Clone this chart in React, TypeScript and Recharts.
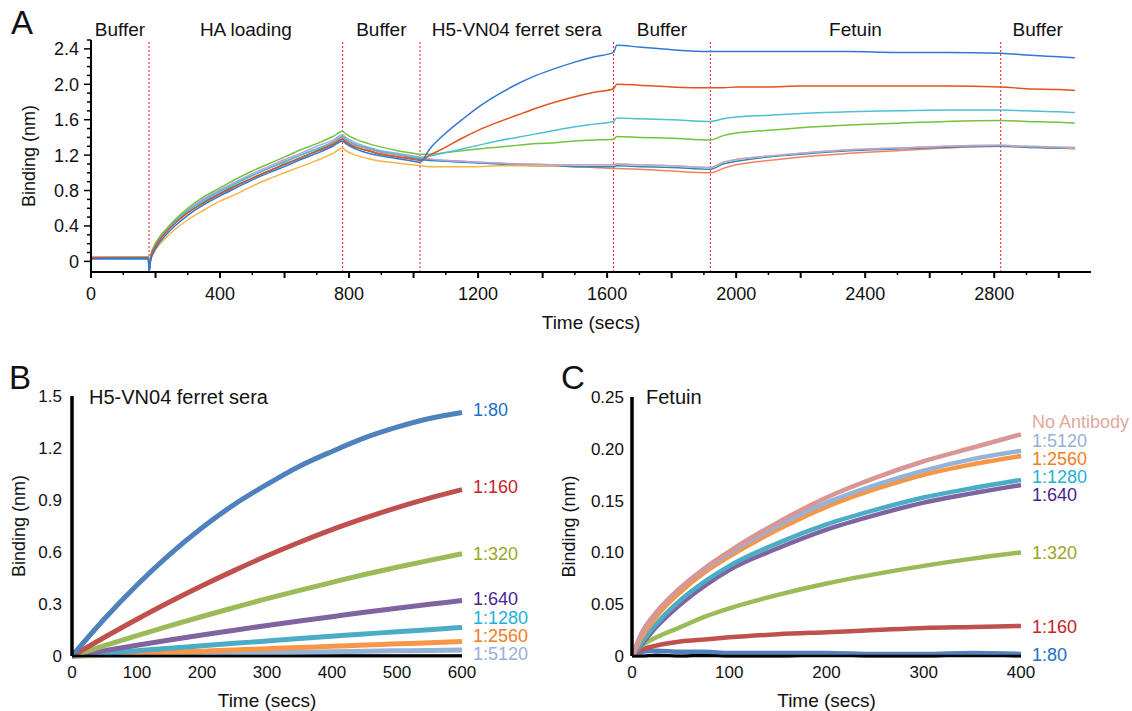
import React from 'react';
import {
  LineChart,
  Line,
  XAxis,
  YAxis,
  ReferenceLine,
  ReferenceArea,
  ReferenceDot,
} from 'recharts';

const FONT = "'Liberation Sans', Arial, Helvetica, sans-serif";

// ---------- Panel A: full sensorgram ----------
const TIME_A = [
  0, 90, 178, 180, 185, 195, 210, 230, 260, 300, 350, 400, 450, 500, 550, 600, 650, 700, 750, 780,
  790, 820, 860, 900, 950, 1000, 1020, 1050, 1100, 1150, 1200, 1260, 1320, 1380, 1440, 1500, 1560,
  1620, 1630, 1700, 1800, 1920, 1960, 2000, 2100, 2200, 2350, 2500, 2650, 2820, 2900, 3000, 3050,
];

const A_BLUE = [
  0.03, 0.03, 0.03, -0.11, 0.01, 0.11, 0.2, 0.29, 0.4, 0.52, 0.64, 0.74, 0.83, 0.92, 1.0, 1.07, 1.15, 1.22, 1.3, 1.36,
  1.33, 1.27, 1.22, 1.19, 1.16, 1.13, 1.12, 1.27, 1.45, 1.6, 1.74, 1.88, 2.0, 2.1, 2.18, 2.25, 2.31,
  2.36, 2.44, 2.42, 2.39, 2.37, 2.37, 2.37, 2.37, 2.37, 2.37, 2.36, 2.36, 2.35, 2.33, 2.31, 2.3,
];
const A_RED = [
  0.04, 0.04, 0.04, -0.11, 0.04, 0.14, 0.23, 0.32, 0.43, 0.55, 0.66, 0.76, 0.85, 0.94, 1.02, 1.09, 1.17, 1.24, 1.32, 1.38,
  1.35, 1.29, 1.25, 1.21, 1.18, 1.15, 1.14, 1.2, 1.29, 1.39, 1.48, 1.57, 1.65, 1.73, 1.8, 1.86, 1.91,
  1.95, 2.0, 1.99, 1.97, 1.96, 1.96, 1.97, 1.97, 1.98, 1.98, 1.98, 1.98, 1.97, 1.95, 1.94, 1.93,
];
const A_CYAN = [
  0.04, 0.05, 0.05, -0.11, 0.04, 0.14, 0.24, 0.33, 0.45, 0.57, 0.69, 0.79, 0.88, 0.97, 1.05, 1.12, 1.2, 1.27, 1.35, 1.41,
  1.38, 1.32, 1.28, 1.24, 1.21, 1.18, 1.17, 1.19, 1.23, 1.27, 1.31, 1.36, 1.4, 1.44, 1.48, 1.52, 1.55,
  1.58, 1.62, 1.61, 1.6, 1.58, 1.61, 1.63, 1.65, 1.67, 1.69, 1.7, 1.71, 1.71, 1.7, 1.69, 1.68,
];
const A_GREEN = [
  0.04, 0.04, 0.05, -0.11, 0.06, 0.16, 0.26, 0.35, 0.47, 0.6, 0.73, 0.83, 0.93, 1.02, 1.1, 1.18, 1.26, 1.33, 1.41, 1.47,
  1.44, 1.38, 1.33, 1.29, 1.25, 1.22, 1.21, 1.21, 1.23, 1.25, 1.27, 1.29, 1.31, 1.33, 1.34, 1.36, 1.37,
  1.38, 1.41, 1.4, 1.39, 1.37, 1.42, 1.45, 1.48, 1.51, 1.54, 1.56, 1.58, 1.59, 1.58, 1.57, 1.56,
];
const A_LAVENDER = [
  0.04, 0.05, 0.05, -0.11, 0.05, 0.15, 0.25, 0.34, 0.46, 0.58, 0.71, 0.81, 0.9, 0.99, 1.07, 1.15, 1.22, 1.3, 1.37, 1.43,
  1.4, 1.34, 1.29, 1.25, 1.22, 1.19, 1.18, 1.16, 1.14, 1.13, 1.12, 1.11, 1.1, 1.1, 1.09, 1.09, 1.09,
  1.09, 1.1, 1.09, 1.08, 1.06, 1.12, 1.15, 1.19, 1.22, 1.26, 1.28, 1.3, 1.31, 1.3, 1.29, 1.29,
];
const A_TEAL = [
  0.03, 0.03, 0.03, -0.11, 0.03, 0.13, 0.23, 0.32, 0.43, 0.55, 0.67, 0.77, 0.86, 0.94, 1.02, 1.1, 1.17, 1.25, 1.32, 1.38,
  1.35, 1.29, 1.25, 1.21, 1.18, 1.16, 1.15, 1.14, 1.13, 1.12, 1.11, 1.1, 1.09, 1.08, 1.08, 1.07, 1.07,
  1.07, 1.08, 1.07, 1.06, 1.04, 1.1, 1.13, 1.18, 1.21, 1.25, 1.27, 1.29, 1.3, 1.29, 1.28, 1.28,
];
const A_SALMON = [
  0.05, 0.05, 0.05, -0.11, 0.07, 0.17, 0.26, 0.35, 0.46, 0.58, 0.7, 0.8, 0.89, 0.97, 1.05, 1.13, 1.2, 1.27, 1.34, 1.4,
  1.37, 1.31, 1.27, 1.23, 1.2, 1.17, 1.16, 1.15, 1.14, 1.13, 1.12, 1.11, 1.1, 1.09, 1.08, 1.07, 1.06,
  1.05, 1.05, 1.04, 1.02, 1.0, 1.05, 1.09, 1.14, 1.18, 1.22, 1.25, 1.28, 1.3, 1.29, 1.28, 1.27,
];
const A_YELLOW = [
  0.04, 0.04, 0.04, -0.11, 0.02, 0.1, 0.18, 0.26, 0.36, 0.47, 0.58, 0.68, 0.76, 0.85, 0.93, 1.0, 1.07, 1.14, 1.22, 1.28,
  1.25, 1.2, 1.16, 1.13, 1.11, 1.09, 1.08, 1.07, 1.07, 1.07, 1.07, 1.08, 1.08, 1.08, 1.08, 1.09, 1.09,
  1.09, 1.1, 1.09, 1.08, 1.06, 1.12, 1.15, 1.19, 1.22, 1.26, 1.28, 1.3, 1.31, 1.3, 1.29, 1.28,
];

const PHASE_EDGES = [180, 780, 1020, 1620, 1920, 2820];
const PHASES = [
  { from: 0, to: 180, name: 'Buffer' },
  { from: 180, to: 780, name: 'HA loading' },
  { from: 780, to: 1020, name: 'Buffer' },
  { from: 1020, to: 1620, name: 'H5-VN04 ferret sera' },
  { from: 1620, to: 1920, name: 'Buffer' },
  { from: 1920, to: 2820, name: 'Fetuin' },
  { from: 2820, to: 3050, name: 'Buffer' },
];
const TICKS_A_X = [
  0, 100, 200, 300, 400, 500, 600, 700, 800, 900, 1000, 1100, 1200, 1300, 1400, 1500, 1600, 1700,
  1800, 1900, 2000, 2100, 2200, 2300, 2400, 2500, 2600, 2700, 2800, 2900, 3000,
];
const TICKS_A_Y = [
  0, 0.1, 0.2, 0.3, 0.4, 0.5, 0.6, 0.7, 0.8, 0.9, 1.0, 1.1, 1.2, 1.3, 1.4, 1.5, 1.6, 1.7, 1.8, 1.9,
  2.0, 2.1, 2.2, 2.3, 2.4, 2.5,
];

// ---------- Panel B: ferret sera association ----------
const TIME_B = [0, 50, 100, 150, 200, 250, 300, 350, 400, 450, 500, 550, 600];
const B_80 = [0, 0.215, 0.41, 0.585, 0.74, 0.875, 0.99, 1.095, 1.18, 1.258, 1.32, 1.37, 1.405];
const B_160 = [0, 0.108, 0.212, 0.311, 0.405, 0.494, 0.578, 0.656, 0.729, 0.795, 0.856, 0.911, 0.96];
const B_320 = [0, 0.06, 0.118, 0.174, 0.228, 0.28, 0.331, 0.379, 0.425, 0.47, 0.512, 0.552, 0.59];
const B_640 = [0, 0.031, 0.062, 0.092, 0.121, 0.149, 0.176, 0.202, 0.227, 0.252, 0.276, 0.298, 0.32];
const B_1280 = [0, 0.015, 0.03, 0.045, 0.059, 0.073, 0.087, 0.101, 0.114, 0.127, 0.14, 0.152, 0.165];
const B_2560 = [0, 0.007, 0.014, 0.021, 0.028, 0.035, 0.042, 0.049, 0.056, 0.063, 0.07, 0.077, 0.083];
const B_5120 = [0, 0.003, 0.006, 0.009, 0.012, 0.015, 0.018, 0.021, 0.024, 0.027, 0.03, 0.032, 0.034];
const B_BASE = [0, 0.001, 0.001, 0.002, 0.001, 0.002, 0.002, 0.001, 0.002, 0.002, 0.001, 0.002, 0.002];

// ---------- Panel C: fetuin binding ----------
const TIME_C = [0, 10, 25, 50, 75, 100, 150, 200, 250, 300, 350, 400];
const C_NOAB = [0, 0.022, 0.042, 0.066, 0.085, 0.101, 0.129, 0.153, 0.172, 0.188, 0.201, 0.214];
const C_5120 = [0, 0.022, 0.042, 0.066, 0.084, 0.099, 0.126, 0.148, 0.165, 0.179, 0.19, 0.198];
const C_2560 = [0, 0.018, 0.038, 0.062, 0.081, 0.096, 0.122, 0.144, 0.161, 0.175, 0.185, 0.193];
const C_1280 = [0, 0.013, 0.031, 0.054, 0.072, 0.087, 0.109, 0.127, 0.141, 0.153, 0.162, 0.17];
const C_640 = [0, 0.011, 0.028, 0.05, 0.068, 0.083, 0.104, 0.122, 0.136, 0.148, 0.157, 0.165];
const C_320 = [0, 0.01, 0.018, 0.028, 0.038, 0.046, 0.059, 0.07, 0.079, 0.087, 0.094, 0.1];
const C_160 = [0, 0.006, 0.01, 0.014, 0.016, 0.018, 0.021, 0.023, 0.025, 0.027, 0.028, 0.029];
const C_80 = [0, 0.004, 0.005, 0.004, 0.004, 0.003, 0.003, 0.003, 0.002, 0.002, 0.003, 0.002];
const C_BASE = [0, 0, 0.001, 0, 0.001, 0, 0, 0.001, 0, 0, 0.001, 0];

const pts = (times: number[], values: number[]) => times.map((t, i) => ({ t, v: values[i] }));

const A_SERIES = [
  { key: 'salmon', values: A_SALMON, color: '#f47f63' },
  { key: 'teal', values: A_TEAL, color: '#2a8fae' },
  { key: 'yellow', values: A_YELLOW, color: '#f6b445' },
  { key: 'lavender', values: A_LAVENDER, color: '#b5a3e6' },
  { key: 'green', values: A_GREEN, color: '#72c43c' },
  { key: 'cyan', values: A_CYAN, color: '#4dbfd6' },
  { key: 'red', values: A_RED, color: '#e2531d' },
  { key: 'blue', values: A_BLUE, color: '#2f78d6' },
];

const B_SERIES = [
  { name: '1:5120', values: B_5120, color: '#95b3d7', text: '#9aaed8', dy: 4 },
  { name: '1:2560', values: B_2560, color: '#f79646', text: '#f07c1e', dy: -6 },
  { name: '1:1280', values: B_1280, color: '#4bacc6', text: '#1fb0d8', dy: -10 },
  { name: '1:640', values: B_640, color: '#8064a2', text: '#4a1f8f', dy: -2 },
  { name: '1:320', values: B_320, color: '#9bbb59', text: '#9ba51f', dy: 0 },
  { name: '1:160', values: B_160, color: '#c0504d', text: '#c8202a', dy: -3 },
  { name: '1:80', values: B_80, color: '#4f81bd', text: '#1e6ec8', dy: -3 },
];

const C_SERIES = [
  { name: '1:80', values: C_80, color: '#4f81bd', text: '#1e6ec8', dy: 1 },
  { name: '1:160', values: C_160, color: '#c0504d', text: '#c8202a', dy: 1 },
  { name: '1:320', values: C_320, color: '#9bbb59', text: '#9ba51f', dy: 0 },
  { name: '1:640', values: C_640, color: '#8064a2', text: '#4a1f8f', dy: 10 },
  { name: '1:1280', values: C_1280, color: '#4bacc6', text: '#1fb0d8', dy: -3 },
  { name: '1:2560', values: C_2560, color: '#f79646', text: '#f07c1e', dy: 3 },
  { name: '1:5120', values: C_5120, color: '#95b3d7', text: '#9aaed8', dy: -10 },
  { name: 'No Antibody', values: C_NOAB, color: '#d99694', text: '#e2a89f', dy: -13 },
];

const TickAX = (props: any) => {
  const { x, y, payload } = props;
  const v = payload.value;
  const major = v % 200 === 0;
  return (
    <g>
      <line x1={x} x2={x} y1={y} y2={y + (major ? 6 : 3)} stroke="#000" strokeWidth={major ? 2 : 1.5} />
      {v % 400 === 0 && (
        <text x={x} y={y + 28} textAnchor="middle" fontSize={18} fill="#111" fontFamily={FONT}>
          {v}
        </text>
      )}
    </g>
  );
};

const TickAY = (props: any) => {
  const { x, y, payload } = props;
  const k = Math.round(payload.value * 10);
  const labeled = k % 4 === 0;
  return (
    <g>
      <line x1={x} x2={x - (labeled ? 7 : 4)} y1={y} y2={y} stroke="#000" strokeWidth={1.5} />
      {labeled && (
        <text x={x - 12} y={y + 6.5} textAnchor="end" fontSize={18} fill="#111" fontFamily={FONT}>
          {k === 0 ? '0' : (k / 10).toFixed(1)}
        </text>
      )}
    </g>
  );
};

const YTitle = (props: any) => {
  const { viewBox, text, dx } = props;
  const cx = viewBox.x + dx;
  const cy = viewBox.y + viewBox.height / 2;
  return (
    <text x={cx} y={cy} dy="0.35em" transform={`rotate(-90 ${cx} ${cy})`} textAnchor="middle" fontSize={18} fill="#111" fontFamily={FONT}>
      {text}
    </text>
  );
};

const XTitle = (props: any) => {
  const { viewBox, text, dy } = props;
  return (
    <text x={viewBox.x + viewBox.width / 2} y={viewBox.y + dy} dy="0.35em" textAnchor="middle" fontSize={19} fill="#111" fontFamily={FONT}>
      {text}
    </text>
  );
};

const PhaseLabel = (props: any) => {
  const { viewBox, text } = props;
  return (
    <text x={viewBox.x + viewBox.width / 2} y={viewBox.y - 4} textAnchor="middle" fontSize={19} fill="#111" fontFamily={FONT}>
      {text}
    </text>
  );
};

const EndLabel = (props: any) => {
  const { viewBox, text, color, dy } = props;
  return (
    <text x={viewBox.x + 11} y={viewBox.y + dy} dy="0.35em" fontSize={18} fill={color} fontFamily={FONT}>
      {text}
    </text>
  );
};

const tickStyle = { fill: '#111', fontSize: 17, fontFamily: FONT };

const PanelA = () => (
  <LineChart width={1132} height={345} margin={{ top: 40, right: 41, bottom: 33, left: 31 }}>
    <XAxis
      dataKey="t"
      type="number"
      domain={[0, 3100]}
      ticks={TICKS_A_X}
      interval={0}
      tickSize={0}
      tickMargin={0}
      tick={<TickAX />}
      height={40}
      axisLine={{ stroke: '#000', strokeWidth: 2 }}
      label={<XTitle text="Time (secs)" dy={50} />}
    />
    <YAxis
      type="number"
      domain={[-0.12, 2.5]}
      ticks={TICKS_A_Y}
      interval={0}
      tickSize={0}
      tickMargin={0}
      tick={<TickAY />}
      width={60}
      axisLine={{ stroke: '#000', strokeWidth: 2 }}
      label={<YTitle text="Binding (nm)" dx={-2} />}
    />
    {PHASES.map((p, i) => (
      <ReferenceArea
        key={`ph-${i}`}
        x1={p.from}
        x2={p.to}
        fillOpacity={0}
        strokeOpacity={0}
        label={<PhaseLabel text={p.name} />}
      />
    ))}
    {PHASE_EDGES.map((x) => (
      <ReferenceLine key={`edge-${x}`} x={x} stroke="#ff1a1a" strokeWidth={1} strokeDasharray="2 2" />
    ))}
    {A_SERIES.map((s) => (
      <Line
        key={s.key}
        data={pts(TIME_A, s.values)}
        dataKey="v"
        type="monotone"
        stroke={s.color}
        strokeWidth={1.5}
        dot={false}
        activeDot={false}
        isAnimationActive={false}
      />
    ))}
  </LineChart>
);

const PanelB = () => (
  <LineChart width={560} height={351} margin={{ top: 36, right: 98, bottom: 25, left: 22 }}>
    <XAxis
      dataKey="t"
      type="number"
      domain={[0, 600]}
      ticks={[0, 100, 200, 300, 400, 500, 600]}
      interval={0}
      tickLine={false}
      tickMargin={4}
      tick={tickStyle}
      height={30}
      axisLine={{ stroke: '#000', strokeWidth: 2.5 }}
      label={<XTitle text="Time (secs)" dy={44} />}
    />
    <YAxis
      type="number"
      domain={[0, 1.5]}
      ticks={[0, 0.3, 0.6, 0.9, 1.2, 1.5]}
      interval={0}
      tickLine={false}
      tickMargin={4}
      tick={tickStyle}
      tickFormatter={(v: number) => (v === 0 ? '0' : v.toFixed(1))}
      width={50}
      axisLine={{ stroke: '#000', strokeWidth: 3.5 }}
      label={<YTitle text="Binding (nm)" dx={-3} />}
    />
    <Line
      data={pts(TIME_B, B_BASE)}
      dataKey="v"
      type="monotone"
      stroke="#000"
      strokeWidth={3}
      dot={false}
      activeDot={false}
      isAnimationActive={false}
    />
    {B_SERIES.map((s) => (
      <Line
        key={s.name}
        data={pts(TIME_B, s.values)}
        dataKey="v"
        type="monotone"
        stroke={s.color}
        strokeWidth={5}
        dot={false}
        activeDot={false}
        isAnimationActive={false}
      />
    ))}
    {B_SERIES.map((s) => (
      <ReferenceDot
        key={`lb-${s.name}`}
        x={TIME_B[TIME_B.length - 1]}
        y={s.values[s.values.length - 1]}
        r={0}
        fill="none"
        stroke="none"
        label={<EndLabel text={s.name} color={s.text} dy={s.dy} />}
      />
    ))}
  </LineChart>
);

const PanelC = () => (
  <LineChart width={572} height={351} margin={{ top: 37, right: 111, bottom: 25, left: 12 }}>
    <XAxis
      dataKey="t"
      type="number"
      domain={[0, 400]}
      ticks={[0, 100, 200, 300, 400]}
      interval={0}
      tickLine={false}
      tickMargin={4}
      tick={tickStyle}
      height={30}
      axisLine={{ stroke: '#000', strokeWidth: 2.5 }}
      label={<XTitle text="Time (secs)" dy={44} />}
    />
    <YAxis
      type="number"
      domain={[0, 0.25]}
      ticks={[0, 0.05, 0.1, 0.15, 0.2, 0.25]}
      interval={0}
      tickLine={false}
      tickMargin={2}
      tick={tickStyle}
      tickFormatter={(v: number) => (v === 0 ? '0' : v.toFixed(2))}
      width={60}
      axisLine={{ stroke: '#000', strokeWidth: 3.5 }}
      label={<YTitle text="Binding (nm)" dx={-3} />}
    />
    <Line
      data={pts(TIME_C, C_BASE)}
      dataKey="v"
      type="monotone"
      stroke="#000"
      strokeWidth={3}
      dot={false}
      activeDot={false}
      isAnimationActive={false}
    />
    {C_SERIES.map((s) => (
      <Line
        key={s.name}
        data={pts(TIME_C, s.values)}
        dataKey="v"
        type="monotone"
        stroke={s.color}
        strokeWidth={4.5}
        dot={false}
        activeDot={false}
        isAnimationActive={false}
      />
    ))}
    {C_SERIES.map((s) => (
      <ReferenceDot
        key={`lc-${s.name}`}
        x={TIME_C[TIME_C.length - 1]}
        y={s.values[s.values.length - 1]}
        r={0}
        fill="none"
        stroke="none"
        label={<EndLabel text={s.name} color={s.text} dy={s.dy} />}
      />
    ))}
  </LineChart>
);

const textAt = (left: number, top: number, size: number): React.CSSProperties => ({
  position: 'absolute',
  left,
  top,
  fontSize: size,
  lineHeight: 1,
  fontFamily: FONT,
  color: '#111',
  whiteSpace: 'nowrap',
});

export default function App() {
  return (
    <div style={{ position: 'absolute', left: 0, top: 0, width: 1132, height: 711, background: '#fff', overflow: 'hidden' }}>
      <div style={{ position: 'absolute', left: 0, top: 0 }}>
        <PanelA />
      </div>
      <div style={{ position: 'absolute', left: 0, top: 360 }}>
        <PanelB />
      </div>
      <div style={{ position: 'absolute', left: 560, top: 360 }}>
        <PanelC />
      </div>
      <div style={textAt(11, 6, 33)}>A</div>
      <div style={textAt(9, 361, 33)}>B</div>
      <div style={textAt(561, 361, 33)}>C</div>
      <div style={textAt(89, 387, 20)}>H5-VN04 ferret sera</div>
      <div style={textAt(646, 387, 20)}>Fetuin</div>
    </div>
  );
}
